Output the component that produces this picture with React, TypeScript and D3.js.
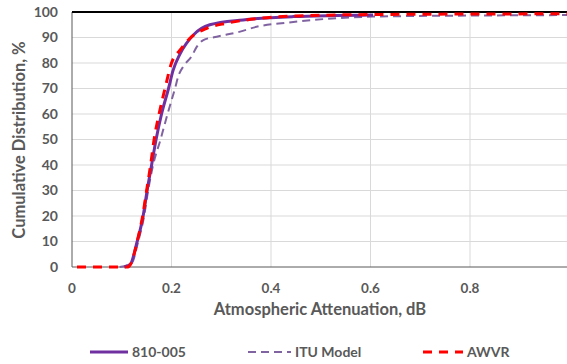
import React from "react"
import * as d3 from "d3"

// x = attenuation (dB), y = cumulative distribution (%)
const meas810X = [0.105, 0.117, 0.131, 0.143, 0.151, 0.16, 0.169, 0.18, 0.194, 0.203, 0.217, 0.244, 0.277, 0.344, 0.445, 0.53, 0.605]
const meas810Y = [0, 1, 10, 20, 30, 40, 50, 60, 70, 77, 83.5, 91, 95, 96.9, 98.2, 98.6, 98.8]

const ituX = [0.096, 0.12, 0.133, 0.145, 0.153, 0.163, 0.178, 0.192, 0.207, 0.214, 0.225, 0.24, 0.251, 0.264, 0.291, 0.338, 0.371, 0.432, 0.605, 0.8, 1.0]
const ituY = [0, 1.5, 10, 20, 30, 40, 50, 60, 70, 75, 79, 82.5, 86.4, 89, 90.3, 92.3, 94.2, 95.8, 98.2, 98.6, 98.8]

const awvrX = [0.01, 0.06, 0.112, 0.12, 0.131, 0.142, 0.15, 0.158, 0.165, 0.175, 0.187, 0.2, 0.217, 0.237, 0.271, 0.311, 0.378, 0.445, 0.6, 0.8, 1.0]
const awvrY = [0, 0, 0, 2, 10, 20, 30, 40, 50, 60, 70, 80, 85, 89.7, 93.6, 95.6, 97.5, 98.4, 99, 99.2, 99.3]

const xTicks = [0, 0.2, 0.4, 0.6, 0.8]
const yTicks = [0, 10, 20, 30, 40, 50, 60, 70, 80, 90, 100]

const W = 567
const H = 364
const FONT = "Lato, 'Open Sans', sans-serif"
const TXT = "#595959"

const toPts = (xs: number[], ys: number[]) => xs.map((x, i) => [x, ys[i]] as [number, number])

export default function App() {
  const x = d3.scaleLinear().domain([0, 1]).range([72, 569.5])
  const y = d3.scaleLinear().domain([0, 100]).range([267, 12])

  const line = d3
    .line<[number, number]>()
    .x((d) => x(d[0]))
    .y((d) => y(d[1]))
    .curve(d3.curveMonotoneX)

  const legend = [
    { label: "810-005", color: "#7030A0", width: 3, dash: "", x1: 90, x2: 128 },
    { label: "ITU Model", color: "#8064A2", width: 2, dash: "8,5", x1: 248, x2: 291 },
    { label: "AWVR", color: "#FF0000", width: 3, dash: "9,7", x1: 423, x2: 463 },
  ]

  return (
    <svg width={W} height={H} style={{ position: "absolute", left: 0, top: 0, background: "#fff" }} fontFamily={FONT}>
      {/* gridlines */}
      {yTicks.slice(1, -1).map((t) => (
        <line key={"gy" + t} x1={72} x2={W} y1={y(t)} y2={y(t)} stroke="#d9d9d9" strokeWidth={1} />
      ))}
      {xTicks.slice(1).map((t) => (
        <line key={"gx" + t} x1={x(t)} x2={x(t)} y1={12} y2={267} stroke="#d9d9d9" strokeWidth={1} />
      ))}

      {/* axes frame */}
      <line x1={72} x2={W} y1={267} y2={267} stroke="#595959" strokeWidth={1} />
      <line x1={72} x2={72} y1={12} y2={267} stroke="#595959" strokeWidth={1} />
      <line x1={72} x2={W} y1={12} y2={12} stroke="#000" strokeWidth={2} />

      {/* series */}
      <path d={line(toPts(ituX, ituY)) || ""} fill="none" stroke="#8064A2" strokeWidth={2} strokeDasharray="8,5" />
      <path d={line(toPts(meas810X, meas810Y)) || ""} fill="none" stroke="#7030A0" strokeWidth={3} />
      <path d={line(toPts(awvrX, awvrY)) || ""} fill="none" stroke="#FF0000" strokeWidth={3} strokeDasharray="9,7" />

      {/* tick labels */}
      {yTicks.map((t) => (
        <text key={"ty" + t} x={58} y={y(t)} dy="0.35em" textAnchor="end" fontSize={14} fontWeight="bold" fill={TXT}>
          {t}
        </text>
      ))}
      {xTicks.map((t) => (
        <text key={"tx" + t} x={x(t)} y={293} textAnchor="middle" fontSize={13.5} fontWeight="bold" fill={TXT}>
          {t}
        </text>
      ))}

      {/* axis titles */}
      <text x={320} y={315} textAnchor="middle" fontSize={16.5} fontWeight="bold" fill={TXT}>
        Atmospheric Attenuation, dB
      </text>
      <text
        transform="translate(19,140) rotate(-90)"
        textAnchor="middle"
        dy="0.35em"
        fontSize={16.5}
        fontWeight="bold"
        fill={TXT}
      >
        Cumulative Distribution, %
      </text>

      {/* legend */}
      {legend.map((l) => (
        <g key={l.label}>
          <line x1={l.x1} x2={l.x2} y1={352} y2={352} stroke={l.color} strokeWidth={l.width} strokeDasharray={l.dash} />
          <text x={l.x2 + 4} y={352} dy="0.35em" fontSize={14} fontWeight="bold" fill={TXT}>
            {l.label}
          </text>
        </g>
      ))}
    </svg>
  )
}
